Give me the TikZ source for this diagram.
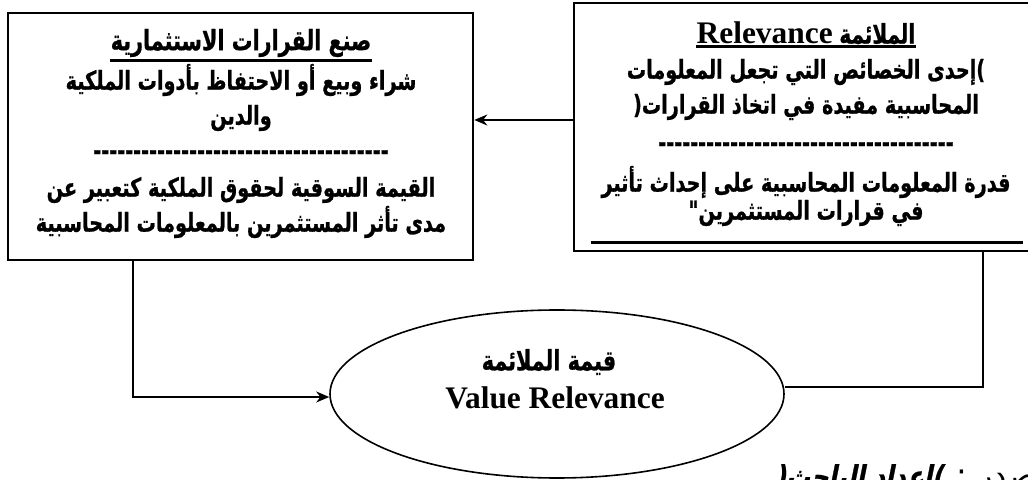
\documentclass[tikz,border=0pt]{standalone}
\usepackage{fontspec}
\TeXXeTstate=1
\newfontfamily\arabicfont[Script=Arabic,FakeStretch=0.74,FakeBold=0.8]{DejaVu Sans}
\newfontfamily\arabicplain[Script=Arabic]{DejaVu Sans}
\newfontfamily\arabicslfont[Script=Arabic,FakeSlant=0.2,FakeStretch=0.8,FakeBold=0.8]{DejaVu Sans}
\newfontfamily\latinserif{Liberation Serif}
\usetikzlibrary{arrows.meta,shapes.geometric}
\newcommand\dashrow[1]{\foreach \i in {1,...,#1}{-}}

\begin{document}
\begin{tikzpicture}[x=0.5pt,y=-0.5pt,
  frame/.style={draw, line width=1.3pt, inner sep=0pt},
  ar/.style={font=\arabicfont\bfseries\fontsize{13}{16}\selectfont, inner sep=0pt},
  lat/.style={font=\latinserif\bfseries\fontsize{15.7}{18}\selectfont, inner sep=0pt},
  link/.style={line width=1pt},
  arr/.style={link, -{Stealth[length=6.5pt,width=5.5pt]}},
  ul/.style={line width=1.4pt}]
\useasboundingbox (0,0) rectangle (1028,480);
\clip (0,0) rectangle (1028,480);

% boxes
\node[frame, minimum width=232.5pt, minimum height=123.5pt] (invest) at (240.5,136.5) {};
\node[frame, minimum width=232pt, minimum height=124pt] (rel) at (806,127) {};

% left box text
\node[ar, font=\arabicfont\bfseries\fontsize{14}{16}\selectfont] (inv1) at (241,43) {\beginR صنع القرارات الاستثمارية\endR};
\node[ar] (inv2) at (241,80) {\beginR شراء وبيع أو الاحتفاظ بأدوات الملكية\endR};
\node[ar] (inv3) at (241,118) {\beginR والدين\endR};
\node[ar] (inv4) at (241,155) {\dashrow{37}};
\node[ar] (inv5) at (241,190) {\beginR القيمة السوقية لحقوق الملكية كتعبير عن\endR};
\node[ar] (inv6) at (241,222) {\beginR مدى تأثر المستثمرين بالمعلومات المحاسبية\endR};
\draw[ul] ([yshift=-1.5pt]inv1.south west) -- ([yshift=-1.5pt]inv1.south east);

% right box text
\node[inner sep=0pt] (rel1) at (806,33) {{\latinserif\bfseries\fontsize{15.7}{18}\selectfont Relevance} {\arabicfont\bfseries\fontsize{13.5}{16}\selectfont\beginR الملائمة\endR}};
\node[ar] (rel2) at (806,72) {\beginR )\kern0pt إحدى الخصائص التي تجعل المعلومات\endR};
\node[ar] (rel3) at (806,107) {\beginR المحاسبية مفيدة في اتخاذ القرارات\kern0pt(\endR};
\node[ar] (rel4) at (806,147) {\dashrow{37}};
\node[ar] (rel5) at (806,182) {\beginR قدرة المعلومات المحاسبية على إحداث تأثير\endR};
\node[ar] (rel6) at (806,213) {\beginR في قرارات المستثمرين\kern0pt"\endR};
\draw[ul] ([yshift=-1pt]rel1.south west) -- ([yshift=-1pt]rel1.south east);
\draw[ul] ([shift={(9pt,5pt)}]rel.south west) -- ([shift={(-8pt,5pt)}]rel.south east);

% ellipse
\node[ellipse, draw, line width=0.8pt, minimum width=227pt, minimum height=84pt, inner sep=0pt] (val) at (557,394) {};
\node[ar, font=\arabicfont\bfseries\fontsize{14}{16}\selectfont] (val1) at (549,362) {\beginR قيمة الملائمة\endR};
\node[lat] (val2) at (555,398) {Value Relevance};

% connectors
\coordinate (a) at ([yshift=3.5pt]rel.west);
\draw[arr] (a) -- (a -| invest.east);
\coordinate (b) at ([xshift=-53.75pt]invest.south);
\draw[arr] (b) |- ([yshift=-1.5pt]val.west);
\coordinate (c) at ([xshift=88.5pt]rel.south);
\draw[link] (c) |- ([yshift=3.5pt]val.east);

% source line
\node[anchor=base east, inner sep=0pt, font=\arabicplain\fontsize{16}{18}\selectfont] (src) at (1075,487)
  {\beginR المصدر : {\arabicslfont\bfseries\fontsize{15}{18}\selectfont )\kern0pt إعداد الباحث\kern0pt(}\endR};
\end{tikzpicture}
\end{document}
